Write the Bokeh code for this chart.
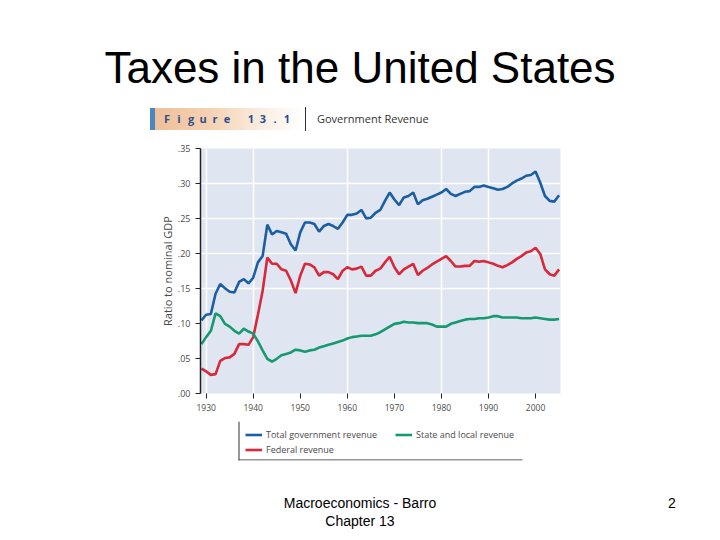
from bokeh.plotting import figure
from bokeh.layouts import column
from bokeh.models import (Range1d, FixedTicker, Legend, LegendItem, BoxAnnotation, Div,
                          CustomJSTickFormatter)
from bokeh.embed import file_html
from bokeh.resources import INLINE

# ---------------- data ----------------
years = list(range(1929, 2006))
total_revenue = [
    0.104, 0.112, 0.113, 0.142, 0.156, 0.150, 0.145, 0.144, 0.159, 0.163,
    0.157, 0.165, 0.187, 0.196, 0.241, 0.227, 0.232, 0.230, 0.228, 0.213,
    0.204, 0.230, 0.244, 0.244, 0.242, 0.231, 0.239, 0.242, 0.239, 0.235,
    0.244, 0.255, 0.255, 0.257, 0.262, 0.250, 0.251, 0.258, 0.262, 0.275,
    0.287, 0.277, 0.269, 0.280, 0.282, 0.287, 0.270, 0.276, 0.278, 0.281,
    0.284, 0.287, 0.292, 0.285, 0.282, 0.285, 0.288, 0.289, 0.295, 0.295,
    0.297, 0.295, 0.293, 0.291, 0.292, 0.295, 0.300, 0.304, 0.307, 0.311,
    0.312, 0.317, 0.301, 0.282, 0.275, 0.274, 0.283]
federal_revenue = [
    0.035, 0.031, 0.026, 0.027, 0.046, 0.050, 0.051, 0.056, 0.070, 0.070,
    0.069, 0.080, 0.112, 0.146, 0.194, 0.185, 0.185, 0.177, 0.175, 0.161,
    0.143, 0.168, 0.185, 0.184, 0.180, 0.168, 0.173, 0.173, 0.170, 0.163,
    0.175, 0.180, 0.177, 0.178, 0.181, 0.168, 0.168, 0.175, 0.178, 0.187,
    0.195, 0.180, 0.170, 0.177, 0.181, 0.185, 0.169, 0.175, 0.179, 0.184,
    0.188, 0.192, 0.196, 0.189, 0.181, 0.181, 0.182, 0.182, 0.189, 0.188,
    0.189, 0.187, 0.185, 0.182, 0.180, 0.183, 0.187, 0.192, 0.196, 0.201,
    0.203, 0.208, 0.199, 0.177, 0.170, 0.168, 0.177]
state_local_revenue = [
    0.070, 0.080, 0.089, 0.114, 0.110, 0.099, 0.095, 0.089, 0.085, 0.092,
    0.088, 0.085, 0.074, 0.061, 0.049, 0.045, 0.049, 0.054, 0.056, 0.058,
    0.062, 0.061, 0.059, 0.061, 0.062, 0.065, 0.067, 0.069, 0.071, 0.073,
    0.075, 0.078, 0.080, 0.081, 0.082, 0.082, 0.082, 0.084, 0.087, 0.091,
    0.095, 0.099, 0.100, 0.102, 0.101, 0.101, 0.100, 0.100, 0.100, 0.098,
    0.095, 0.095, 0.095, 0.099, 0.101, 0.103, 0.105, 0.106, 0.106, 0.107,
    0.107, 0.108, 0.110, 0.110, 0.108, 0.108, 0.108, 0.108, 0.107, 0.107,
    0.107, 0.108, 0.107, 0.106, 0.105, 0.105, 0.106]

series_labels = ["Total government revenue", "Federal revenue", "State and local revenue"]
x_ticks = [1930, 1940, 1950, 1960, 1970, 1980, 1990, 2000]
y_ticks = [0.0, 0.05, 0.10, 0.15, 0.20, 0.25, 0.30, 0.35]
x_grid_ticks = [1930, 1940, 1960, 1980, 1990]
y_grid_ticks = [0.15, 0.20, 0.25, 0.30]

slide_title = "Taxes in the United States"
figure_tag = "Figure 13.1"
figure_caption = "Government Revenue"
y_axis_title = "Ratio to nominal GDP"
footer_lines = ["Macroeconomics - Barro", "Chapter 13"]
page_number = "2"

BLUE = "#1c5ea2"
RED = "#d8283a"
GREEN = "#17996f"
TXT = "#4a4a4a"
FONT = "Open Sans"
W = 712

# ---------------- header (title + figure tag) ----------------
tag_spans = "".join(
    '<span style="position:absolute;left:%dpx;top:0;width:12px;text-align:center;">%s</span>'
    % (11 + 12 * i, ch) for i, ch in enumerate(figure_tag) if ch != " ")
head_html = (
    '<div style="position:relative;width:%dpx;height:142px;">' % W
    + '<div style="position:absolute;left:0;top:46px;width:720px;text-align:center;'
      'font-family:\'Liberation Sans\';font-size:44px;line-height:44px;color:#000;">'
    + slide_title + '</div>'
    + '<div style="position:absolute;left:150px;top:108px;width:152px;height:22px;'
      'background:linear-gradient(to right,#4a86c5 0px,#4a86c5 5px,#f0bf98 5px,#f5d2b4 40%,#fbeee2 75%,#ffffff 100%);'
      'font-family:\'Open Sans\';font-weight:bold;font-size:11px;line-height:22px;color:#2b4f8e;">'
    + tag_spans + '</div>'
    + '<div style="position:absolute;left:305px;top:107px;width:1px;height:24px;background:#333;"></div>'
    + '<div style="position:absolute;left:317px;top:108px;font-family:\'Open Sans\';font-size:11px;'
      'line-height:22px;color:#333;white-space:nowrap;">' + figure_caption + '</div>'
    + '</div>')
head = Div(text=head_html, width=W, height=142, margin=0)

# ---------------- chart ----------------
p = figure(width=W, height=273,
           x_range=Range1d(1928.8, 2005.3), y_range=Range1d(-0.0007, 0.35),
           output_backend="svg", toolbar_location=None,
           min_border_left=200, min_border_right=W - 560,
           min_border_top=6, min_border_bottom=22,
           background_fill_color="#dfe6f1", border_fill_color="white",
           outline_line_color=None, margin=0)

p.xgrid.ticker = FixedTicker(ticks=x_grid_ticks)
p.ygrid.ticker = FixedTicker(ticks=y_grid_ticks)
p.xgrid.grid_line_color = "white"
p.ygrid.grid_line_color = "white"
p.xgrid.grid_line_width = 1.5
p.ygrid.grid_line_width = 1.5

p.xaxis.ticker = FixedTicker(ticks=x_ticks)
p.yaxis.ticker = FixedTicker(ticks=y_ticks)
p.yaxis.formatter = CustomJSTickFormatter(code="return tick.toFixed(2).replace(/^0/, '');")
p.xaxis.axis_line_color = None
p.yaxis.axis_line_color = "#222222"
p.yaxis.axis_line_width = 1.5
for ax in (p.xaxis, p.yaxis):
    ax.major_tick_out = 5
    ax.major_tick_in = 0
    ax.minor_tick_line_color = None
    ax.major_tick_line_color = "#222222"
    ax.major_label_text_font = FONT
    ax.major_label_text_color = TXT
    ax.major_label_standoff = 5
p.xaxis.major_label_text_font_size = "8.5px"
p.yaxis.major_label_text_font_size = "9px"
p.yaxis.axis_label = y_axis_title
p.yaxis.axis_label_text_font = FONT
p.yaxis.axis_label_text_font_size = "11px"
p.yaxis.axis_label_text_font_style = "normal"
p.yaxis.axis_label_text_color = TXT
p.yaxis.axis_label_standoff = 0

p.line(years, total_revenue, line_color=BLUE, line_width=2.6)
p.line(years, federal_revenue, line_color=RED, line_width=2.6)
p.line(years, state_local_revenue, line_color=GREEN, line_width=2.6)

# ---------------- legend strip (frame aligned with the chart's frame) ----------------
lg = figure(width=W, height=50, x_range=Range1d(0, 1), y_range=Range1d(0, 1),
            x_axis_type=None, y_axis_type=None, output_backend="svg",
            toolbar_location=None, min_border_left=200, min_border_right=W - 560,
            min_border_top=6, min_border_bottom=5, outline_line_color=None,
            background_fill_color="white", border_fill_color="white", margin=0)
lg.xgrid.visible = False
lg.ygrid.visible = False
# hidden renderers that only supply the legend swatches
k_total = lg.line(years, total_revenue, line_color=BLUE, line_width=2.6, visible=False)
k_fed = lg.line(years, federal_revenue, line_color=RED, line_width=2.6, visible=False)
k_state = lg.line(years, state_local_revenue, line_color=GREEN, line_width=2.6, visible=False)

def sbox(left, right, bottom, top, color):
    return BoxAnnotation(left=left, right=right, bottom=bottom, top=top,
                         left_units="screen", right_units="screen",
                         bottom_units="screen", top_units="screen",
                         fill_color=color, fill_alpha=1, line_color=None)

lg.add_layout(sbox(38, 39, 0, 39, "#333333"))
lg.add_layout(sbox(38, 322, 0, 1, "#333333"))

leg_common = dict(background_fill_alpha=0, border_line_alpha=0,
                  inactive_fill_alpha=0,
                  label_text_font=FONT, label_text_font_size="9px",
                  label_text_color=TXT, glyph_width=17, glyph_height=13,
                  label_height=13, label_standoff=4, spacing=2, padding=7, margin=0)
leg_a = Legend(items=[LegendItem(label=series_labels[0], renderers=[k_total]),
                      LegendItem(label=series_labels[1], renderers=[k_fed])],
               location=(38, -3), **leg_common)
leg_b = Legend(items=[LegendItem(label=series_labels[2], renderers=[k_state])],
               location=(188, 12), **leg_common)
lg.add_layout(leg_a)
lg.add_layout(leg_b)

# ---------------- footer ----------------
foot_html = (
    '<div style="position:relative;width:%dpx;height:67px;font-family:\'Liberation Sans\';'
    'font-size:14px;line-height:18px;color:#000;">' % W
    + '<div style="position:absolute;left:0;top:29px;width:720px;text-align:center;">'
    + footer_lines[0] + '</div>'
    + '<div style="position:absolute;left:0;top:47px;width:720px;text-align:center;">'
    + footer_lines[1] + '</div>'
    + '<div style="position:absolute;left:662px;top:29px;width:20px;text-align:center;">'
    + page_number + '</div>'
    + '</div>')
foot = Div(text=foot_html, width=W, height=67, margin=0)

layout = column(head, p, lg, foot, spacing=0)
open("out.html", "w").write(file_html(layout, INLINE))
